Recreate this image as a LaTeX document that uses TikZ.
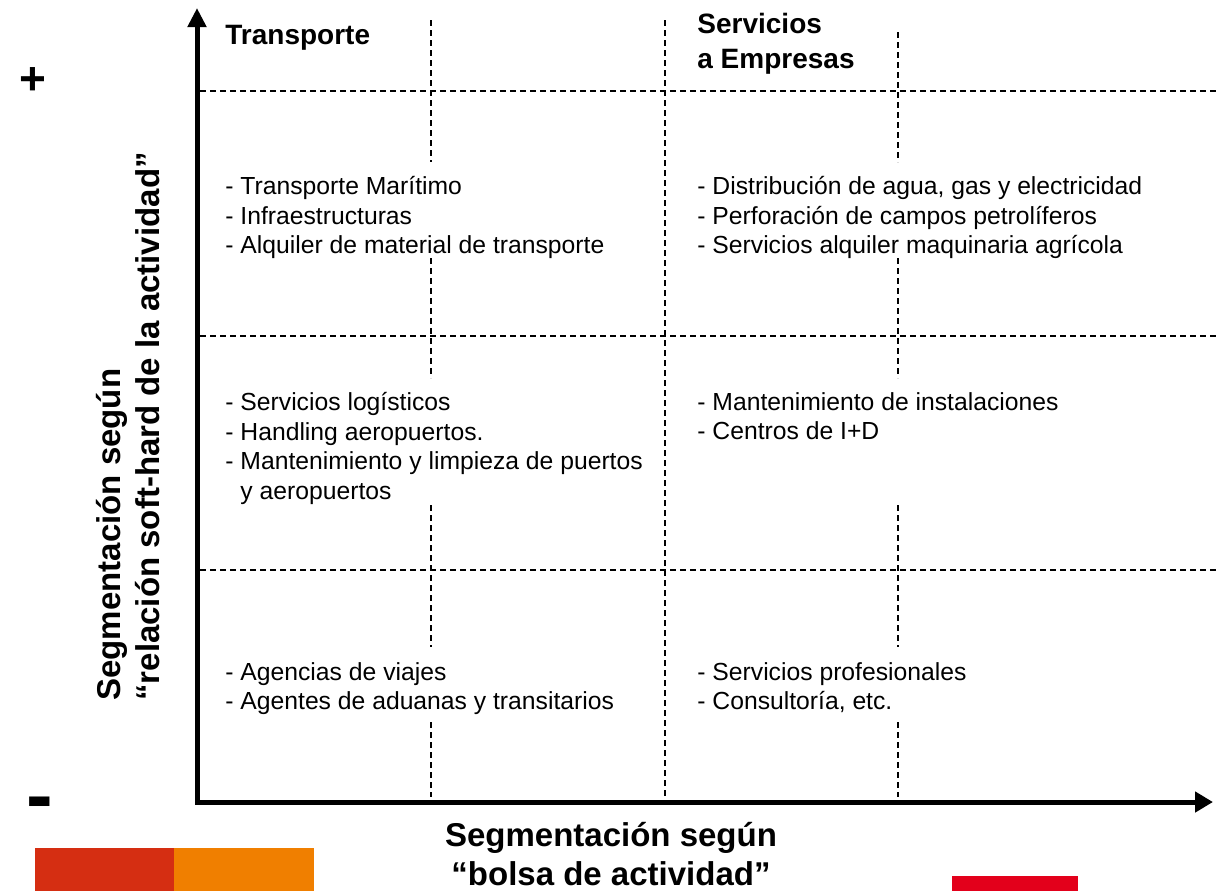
\documentclass[tikz,border=0pt]{standalone}
\usepackage{fontspec}
\setmainfont{Liberation Sans}
\usetikzlibrary{arrows.meta,positioning}
\definecolor{barred}{RGB}{213,46,18}
\definecolor{barorange}{RGB}{240,127,0}
\definecolor{barright}{RGB}{227,0,27}

\begin{document}
\begin{tikzpicture}[x=0.5pt, y=-0.5pt]
  \tikzstyle{axis}=[line width=2.5pt, line join=miter, {Triangle[length=9.5pt,width=9pt]}-{Triangle[length=9pt,width=10pt]}]
  \tikzstyle{grid}=[line width=0.75pt, dash pattern=on 3pt off 2pt]
  \tikzstyle{head}=[anchor=north west, inner sep=0pt, align=left, font=\bfseries\fontsize{14}{17.5}\selectfont]
  \tikzstyle{item}=[anchor=north west, inner sep=0pt, align=left, font=\fontsize{12.35}{14.75}\selectfont]
  \tikzstyle{axislabel}=[inner sep=0pt, font=\bfseries\fontsize{16.5}{19.5}\selectfont]
  \tikzstyle{sign}=[anchor=north, inner sep=0pt, font=\bfseries]

  \useasboundingbox (0,0) rectangle (1218,891);

  % rejilla
  \foreach \gy in {91,336,570}
    \draw[grid] (200,\gy) -- (1218,\gy);
  \draw[grid] (665,20) -- (665,800);
  \foreach \gx/\gtop in {431/20,898/32}
    \foreach \ga/\gb in {\gtop/162,258/378,505/647,722/797}
      \draw[grid] (\gx,\ga) -- (\gx,\gb);

  % ejes
  \coordinate (O) at (197,802);
  \coordinate (ytip) at (197,8);
  \coordinate (xtip) at (1213,802);
  \draw[axis] (ytip) -- (O) -- (xtip);

  \node[head] (transp) at (225,25) {Transporte};
  \node[head] (servemp) at (697,13) {Servicios\\a Empresas};

  \node[item] (t1) at (225,176) {- Transporte Marítimo\\- Infraestructuras\\- Alquiler de material de transporte};
  \node[item] (s1) at (697,176) {- Distribución de agua, gas y electricidad\\- Perforación de campos petrolíferos\\- Servicios alquiler maquinaria agrícola};
  \node[item] (t2) at (225,392) {- Servicios logísticos\\- Handling aeropuertos.\\- Mantenimiento y limpieza de puertos\\\phantom{-} y aeropuertos};
  \node[item] (s2) at (697,392) {- Mantenimiento de instalaciones\\- Centros de I+D};
  \node[item] (t3) at (225,662) {- Agencias de viajes\\- Agentes de aduanas y transitarios};
  \node[item] (s3) at (697,662) {- Servicios profesionales\\- Consultoría, etc.};

  \node[axislabel, anchor=north, align=center] (xlabel) at (611,822) {Segmentación según\\“bolsa de actividad”};
  \node[axislabel, anchor=north west, align=left, rotate=90] (ylabel) at (96,701) {Segmentación según\\“relación soft-hard de la actividad”};

  \node[sign, font=\bfseries\fontsize{23}{23}\selectfont] (plus) at (33,67) {+};
  \node[sign, font=\bfseries\fontsize{40}{40}\selectfont] (minus) at (40,797) {-};

  \fill[barred] (35,848) rectangle (174,891);
  \fill[barorange] (174,848) rectangle (314,891);
  \fill[barright] (952,876) rectangle (1078,891);
\end{tikzpicture}
\end{document}
